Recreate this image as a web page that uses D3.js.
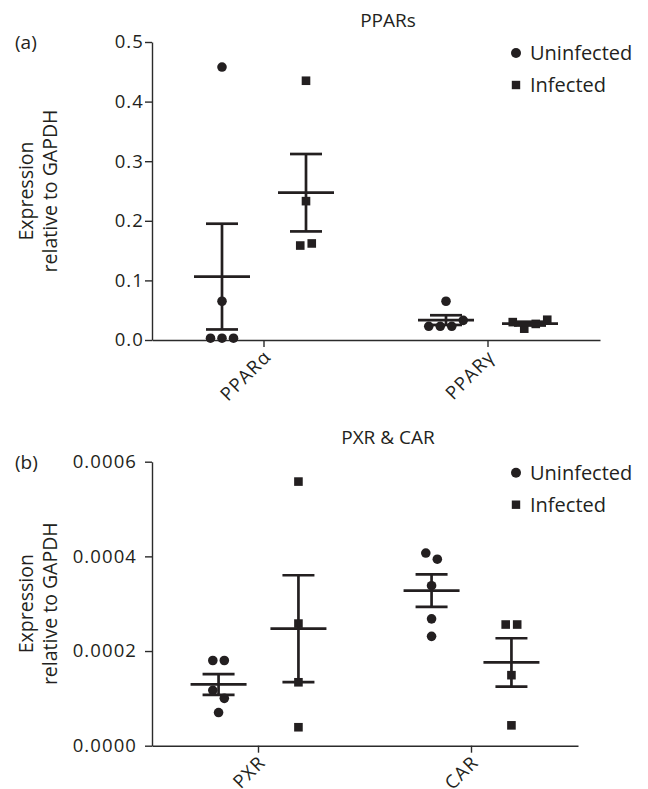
<!DOCTYPE html>
<html>
<head>
<meta charset="utf-8">
<script src="https://cdn.jsdelivr.net/npm/d3@7"></script>
<style>
  body { margin: 0; background: #fff; }
  text { font-family: 'Open Sans', 'DejaVu Sans', sans-serif; fill: #231f20; }
  .axis path, .axis line { stroke: #2b2b2b; stroke-width: 1.4; }
  .axis text { font-size: 18.5px; letter-spacing: 1.1px; fill: #231f20; }
</style>
</head>
<body>
<svg id="chart"></svg>
<script>
// svg size
const width = 648;
const height = 789;

// panel (a): PPARs
const genesA = ['PPARα', 'PPARγ'];
const uninfectedA = [
  [0.458, 0.065, 0.003, 0.003, 0.003],
  [0.065, 0.023, 0.023, 0.023, 0.033]
];
const infectedA = [
  [0.435, 0.233, 0.1585, 0.162],
  [0.030, 0.019, 0.027, 0.034]
];
const ticksA = [0, 0.1, 0.2, 0.3, 0.4, 0.5];

// panel (b): PXR & CAR
const genesB = ['PXR', 'CAR'];
const uninfectedB = [
  [0.00018, 0.00018, 0.000117, 0.0001, 0.00007],
  [0.000407, 0.000394, 0.000338, 0.000268, 0.000231]
];
const infectedB = [
  [0.000558, 0.000258, 0.000134, 0.000039],
  [0.000256, 0.000256, 0.000149, 0.000043]
];
const ticksB = [0, 0.0002, 0.0004, 0.0006];

const groups = ['Uninfected', 'Infected'];

const svg = d3.select('#chart')
  .attr('width', width)
  .attr('height', height);

drawPanel({
  label: '(a)', title: 'PPARs', titleY: 27,
  genes: genesA, uninfected: uninfectedA, infected: infectedA,
  ticks: ticksA, format: d3.format('.1f'),
  x: [152, 600], y: [340, 42], yPad: 1
});

drawPanel({
  label: '(b)', title: 'PXR & CAR', titleY: 444,
  genes: genesB, uninfected: uninfectedB, infected: infectedB,
  ticks: ticksB, format: d3.format('.4f'),
  x: [152, 578], y: [745.7, 461.7], yPad: 8
});

/*
 * one dot plot with mean +- sem bars
 */
function drawPanel(p) {
  const top = p.y[1];
  const bottom = p.y[0];

  const scales = {
    x: d3.scaleBand().domain(p.genes).range(p.x).padding(0),
    y: d3.scaleLinear().domain([0, d3.max(p.ticks)]).range(p.y)
  };

  const offset = scales.x.bandwidth() * 0.1875;

  // axes
  const xAxis = d3.axisBottom(scales.x).tickSizeInner(7).tickSizeOuter(0);
  const yAxis = d3.axisLeft(scales.y).tickValues(p.ticks).tickFormat(p.format)
    .tickSizeInner(7).tickSizeOuter(0).tickPadding(p.yPad);

  const xGroup = svg.append('g')
    .attr('class', 'axis')
    .attr('transform', translate(0, bottom))
    .call(xAxis);
  xGroup.selectAll('text')
    .attr('x', 0).attr('y', 0).attr('dy', 0)
    .attr('text-anchor', 'end')
    .attr('transform', 'translate(8,18) rotate(-45)');

  svg.append('g')
    .attr('class', 'axis')
    .attr('transform', translate(p.x[0], 0))
    .call(yAxis);

  // axis title, two lines rotated
  const yMid = (top + bottom) / 2;
  const titleGroup = svg.append('g').attr('transform', translate(0, yMid));
  titleGroup.append('text')
    .text('Expression')
    .attr('text-anchor', 'middle')
    .attr('font-size', 19.5)
    .attr('transform', translate(33, 0) + ' rotate(-90)');
  titleGroup.append('text')
    .text('relative to GAPDH')
    .attr('text-anchor', 'middle')
    .attr('font-size', 19.5)
    .attr('transform', translate(57, 0) + ' rotate(-90)');

  // panel label and title
  svg.append('text').text(p.label)
    .attr('x', 15).attr('y', top + 7)
    .attr('font-size', 19);
  svg.append('text').text(p.title)
    .attr('x', 388).attr('y', p.titleY)
    .attr('text-anchor', 'middle')
    .attr('font-size', 19);

  const plot = svg.append('g');

  p.genes.forEach((gene, i) => {
    const sets = [p.uninfected[i], p.infected[i]];
    sets.forEach((values, g) => {
      const cx = scales.x(gene) + scales.x.bandwidth() / 2 + (g === 0 ? -offset : offset);
      const xs = swarm(values, scales.y, cx);

      const pts = plot.append('g');
      if (g === 0) {
        pts.selectAll('circle')
          .data(values)
          .enter()
          .append('circle')
          .attr('cx', (d, k) => xs[k])
          .attr('cy', d => scales.y(d))
          .attr('r', 4.8)
          .attr('fill', '#231f20');
      } else {
        pts.selectAll('rect')
          .data(values)
          .enter()
          .append('rect')
          .attr('x', (d, k) => xs[k] - 4.3)
          .attr('y', d => scales.y(d) - 4.3)
          .attr('width', 8.6)
          .attr('height', 8.6)
          .attr('fill', '#231f20');
      }

      // mean and sem
      const mean = d3.mean(values);
      const sem = d3.deviation(values) / Math.sqrt(values.length);
      const bars = plot.append('g')
        .attr('stroke', '#231f20')
        .attr('stroke-width', 2.7);
      bars.append('line')
        .attr('x1', cx).attr('x2', cx)
        .attr('y1', scales.y(mean - sem)).attr('y2', scales.y(mean + sem));
      [mean - sem, mean + sem].forEach(v => {
        bars.append('line')
          .attr('x1', cx - 16).attr('x2', cx + 16)
          .attr('y1', scales.y(v)).attr('y2', scales.y(v));
      });
      bars.append('line')
        .attr('x1', cx - 28).attr('x2', cx + 28)
        .attr('y1', scales.y(mean)).attr('y2', scales.y(mean));
    });
  });

  // legend
  const legend = svg.append('g').attr('transform', translate(516, top + 11));
  groups.forEach((name, g) => {
    const row = legend.append('g').attr('transform', translate(0, g * 32));
    if (g === 0) {
      row.append('circle').attr('r', 5).attr('fill', '#231f20');
    } else {
      row.append('rect').attr('x', -4.2).attr('y', -4.2)
        .attr('width', 8.4).attr('height', 8.4).attr('fill', '#231f20');
    }
    row.append('text').text(name)
      .attr('x', 14).attr('dy', '0.36em')
      .attr('font-size', 20);
  });
}

/*
 * spreads points with nearly equal values side by side
 */
function swarm(values, y, cx) {
  const spacing = 11.5;
  const order = values.map((d, k) => k).sort((a, b) => y(values[a]) - y(values[b]));
  const xs = new Array(values.length).fill(cx);
  let cluster = [order[0]];
  const flush = () => {
    cluster.sort((a, b) => a - b);
    cluster.forEach((k, j) => {
      xs[k] = cx + (j - (cluster.length - 1) / 2) * spacing;
    });
  };
  for (let n = 1; n < order.length; n++) {
    const prev = order[n - 1];
    const cur = order[n];
    if (Math.abs(y(values[cur]) - y(values[prev])) < 10) {
      cluster.push(cur);
    } else {
      flush();
      cluster = [cur];
    }
  }
  flush();
  return xs;
}

/*
 * returns a translate string for the transform attribute
 */
function translate(x, y) {
  return 'translate(' + String(x) + ',' + String(y) + ')';
}
</script>
</body>
</html>
